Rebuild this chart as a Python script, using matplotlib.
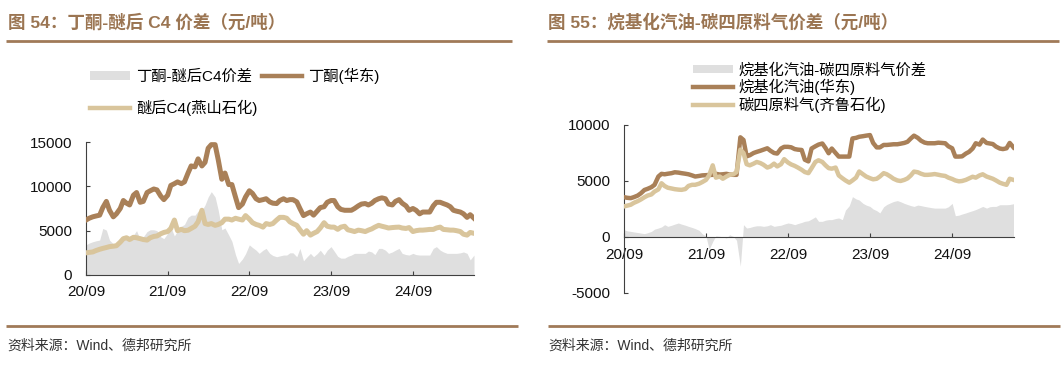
import matplotlib
matplotlib.use('Agg')
import matplotlib.pyplot as plt
import matplotlib.dates as mdates
from matplotlib.patches import Patch
from matplotlib.lines import Line2D
import pandas as pd

plt.rcParams['font.family'] = ['Liberation Sans', 'Noto Sans CJK SC']
plt.rcParams['axes.unicode_minus'] = False

# ---------------- data ----------------
dates = pd.date_range('2020-09-01', '2025-06-01', freq='SMS')  # semi-monthly grid

# Fig 54
butanone = [6200, 6400, 6560, 6650, 6750, 7600, 8300, 7300, 6560, 6900,
            7500, 8400, 8100, 7900, 9000, 9300, 8200, 8300, 9300, 9500,
            9700, 9600, 8900, 8500, 9000, 10100, 10300, 10500, 10300, 10500,
            11500, 12300, 12200, 13100, 12300, 12700, 14300, 14700, 14700, 13000,
            10800, 11500, 10200, 10200, 8800, 7600, 8000, 8800, 9500, 9200,
            8600, 8400, 8500, 8600, 8250, 8100, 8060, 8400, 8600, 8400,
            8500, 8500, 8250, 7500, 6700, 6900, 7100, 6750, 7200, 7600,
            7700, 8200, 8400, 8400, 7700, 7400, 7300, 7300, 7300, 7500,
            7800, 8000, 8060, 7900, 8100, 8400, 8600, 8700, 8600, 8000,
            7900, 8300, 8500, 8100, 7800, 7300, 7500, 7300, 6900, 7100,
            7100, 7100, 7800, 8200, 8200, 8060, 7900, 7700, 7300, 7200,
            7100, 6900, 6500, 6800, 6400]
c4_after_ether = [2500, 2550, 2600, 2750, 2900, 3000, 3100, 3200, 3250, 3300,
                  3700, 4100, 4200, 4000, 4250, 4200, 4100, 4000, 3940, 4200,
                  4350, 4400, 4650, 4800, 4900, 5250, 6200, 5000, 5150, 5000,
                  5050, 5250, 5500, 6000, 7300, 5800, 5700, 5800, 5600, 5700,
                  5900, 6300, 6300, 6200, 6400, 6300, 6200, 6700, 6300, 5900,
                  5700, 5600, 5400, 5800, 5700, 5800, 6200, 6500, 6500, 6400,
                  6000, 5800, 5600, 5100, 4600, 5000, 4500, 4700, 4900, 5300,
                  5900, 5500, 5400, 5400, 5150, 5400, 5500, 5100, 5000, 4900,
                  5060, 5000, 4900, 5060, 5200, 5400, 5600, 5500, 5400, 5300,
                  5350, 5380, 5400, 5300, 5250, 5350, 4900, 5000, 5060, 5060,
                  5100, 5140, 5140, 5300, 5400, 5140, 5100, 5060, 5060, 5000,
                  4900, 4600, 4500, 4800, 4700]
spread54 = [3400, 3600, 3750, 3850, 3940, 5250, 5060, 3940, 3500, 3400,
            3800, 4200, 4000, 3800, 4500, 5000, 4000, 4300, 4900, 5100,
            5100, 5000, 4300, 4100, 4700, 5400, 4400, 5000, 5500, 5700,
            6500, 6750, 6750, 7200, 7300, 7900, 8800, 9400, 8800, 7300,
            5100, 5300, 4500, 3800, 2300, 1300, 1800, 2400, 3400, 3100,
            2800, 2440, 2800, 3000, 2440, 2200, 2060, 2150, 2250, 2250,
            2500, 2500, 2060, 3000, 1600, 2000, 2440, 2060, 2400, 2800,
            2250, 2800, 3200, 2700, 2100, 1900, 1900, 2100, 2250, 2440,
            2440, 2440, 2440, 2700, 2600, 2300, 3000, 3000, 2800, 2440,
            2600, 2800, 3000, 2440, 2300, 2250, 2440, 2300, 2250, 2250,
            2250, 2250, 3000, 3200, 2800, 2600, 2440, 2440, 2440, 2440,
            2500, 2600, 2440, 1700, 2250]

# Fig 55
alkylate = [3560, 3500, 3470, 3560, 3700, 3900, 4200, 4300, 4450, 4660,
            5400, 5640, 5600, 5650, 5700, 5780, 5750, 5700, 5650, 5600,
            5500, 5400, 5450, 5500, 5520, 5540, 5550, 5640, 5580, 5600,
            5640, 5580, 5550, 5550, 8900, 8660, 7200, 7300, 7500, 7600,
            7700, 7800, 7920, 7700, 7500, 7450, 7900, 8050, 8050, 8010,
            7850, 7800, 7770, 6900, 6750, 7900, 8100, 8250, 8350, 7950,
            7480, 7900, 7500, 7180, 7180, 7180, 7180, 8800, 8850, 8950,
            9000, 9050, 9100, 8400, 8000, 8000, 8220, 8220, 8250, 8280,
            8280, 8330, 8400, 8500, 8800, 9050, 8850, 8600, 8430, 8370,
            8370, 8370, 8420, 8400, 8370, 8100, 7920, 7180, 7180, 7200,
            7450, 7600, 7900, 8370, 8250, 8700, 8400, 8350, 8300, 8070,
            7900, 7850, 7920, 8400, 8000]
c4_feed = [2730, 2800, 2880, 3050, 3200, 3350, 3550, 3700, 3800, 4060,
           4250, 4800, 4550, 4400, 4330, 4270, 4230, 4210, 4280, 4560,
           4660, 4660, 4760, 4900, 5100, 5500, 6400, 5300, 5400, 5200,
           5400, 5550, 5600, 5800, 7800, 7500, 6500, 6400, 6550, 6700,
           6600, 6450, 6200, 6300, 6550, 6300, 6500, 6950, 6650, 6480,
           6350, 6200, 6000, 5800, 5700, 6140, 6700, 6850, 6700, 6400,
           6150, 6100, 6200, 5500, 5250, 5050, 4850, 5050, 5300, 5850,
           5600, 5400, 5250, 5150, 5200, 5400, 5700, 5600, 5400, 5200,
           5050, 5000, 5100, 5230, 5500, 5840, 5780, 5650, 5550, 5550,
           5580, 5620, 5560, 5500, 5450, 5300, 5180, 5050, 4970, 5000,
           5100, 5230, 5380, 5300, 5500, 5600, 5400, 5300, 5200, 5050,
           4850, 4750, 4660, 5200, 5100]
spread55 = [650, 550, 500, 450, 400, 350, 300, 380, 500, 700,
            800, 900, 1100, 950, 1050, 1150, 1250, 1150, 1050, 950,
            850, 750, 600, 300, 60, -1100, -400, 100, 60, 0,
            -90, 200, 50, -300, -2600, 1100, 800, 850, 950, 1000,
            1000, 950, 1000, 1100, 950, 1000, 1050, 1150, 1250, 1200,
            1100, 1200, 1300, 1400, 1450, 1600, 1800, 1400, 1400, 1500,
            1550, 1550, 1650, 1700, 1550, 2400, 2800, 3600, 3400, 3300,
            3000, 2850, 2730, 2500, 2350, 2150, 2700, 2900, 3050, 3170,
            3250, 3150, 3000, 2900, 2800, 2730, 2850, 2800, 2730, 2680,
            2620, 2580, 2580, 2580, 2580, 2700, 3000, 1900, 1950, 2050,
            2150, 2250, 2350, 2450, 2600, 2730, 2580, 2700, 2730, 2730,
            2880, 2880, 2880, 2900, 2970]

xticks = pd.to_datetime(['2020-09-01', '2021-09-01', '2022-09-01', '2023-09-01', '2024-09-01'])

title54 = '图 54：丁酮-醚后 C4 价差（元/吨）'
title55 = '图 55：烷基化汽油-碳四原料气价差（元/吨）'
labels54 = ['丁酮-醚后C4价差', '醚后C4(燕山石化)', '丁酮(华东)']
labels55 = ['烷基化汽油-碳四原料气价差', '烷基化汽油(华东)', '碳四原料气(齐鲁石化)']
source = '资料来源：Wind、德邦研究所'

# ---------------- style ----------------
BROWN = '#a98058'
TAN = '#d9c59c'
GRAY = '#dfdfdf'
TITLE_C = '#9b7552'
RULE_C = '#a07a58'
AX_C = '#404040'
FONT = ['Liberation Sans', 'Noto Sans CJK SC']

W, H = 1063, 367
fig = plt.figure(figsize=(W / 100, H / 100), dpi=100)


def fx(px):
    return px / W


def fy(py):
    return 1 - py / H


def rule(x0, x1, y, lw=2.0):
    fig.add_artist(Line2D([fx(x0), fx(x1)], [fy(y), fy(y)], transform=fig.transFigure,
                          color=RULE_C, lw=lw, solid_capstyle='butt'))


# titles & rules
fig.text(fx(8), fy(22), title54, ha='left', va='center', fontsize=12.6,
         fontweight='bold', color=TITLE_C, family=FONT)
fig.text(fx(548), fy(22), title55, ha='left', va='center', fontsize=12.6,
         fontweight='bold', color=TITLE_C, family=FONT)
rule(6, 512, 41)
rule(547, 1059, 41)
rule(6, 518, 326)
rule(548, 1060, 326)
fig.text(fx(7), fy(346), source, ha='left', va='center', fontsize=10, color='#333333', family=FONT)
fig.text(fx(548), fy(346), source, ha='left', va='center', fontsize=10, color='#333333', family=FONT)


def style_axes(ax, ylim, yticks, ypad, xpad):
    for s in ['top', 'right']:
        ax.spines[s].set_visible(False)
    for s in ['left', 'bottom']:
        ax.spines[s].set_color(AX_C)
        ax.spines[s].set_linewidth(0.8)
    ax.set_ylim(*ylim)
    ax.set_yticks(yticks)
    ax.set_xticks(xticks)
    ax.set_xlim(dates[0], dates[-1])
    ax.xaxis.set_major_formatter(mdates.DateFormatter('%y/%m'))
    ax.tick_params(axis='both', direction='in', length=3, width=0.8, color=AX_C,
                   labelsize=11, labelcolor='#111111')
    ax.tick_params(axis='y', pad=ypad)
    ax.tick_params(axis='x', pad=xpad)
    ax.set_facecolor('none')


# ---------------- Fig 54 ----------------
ax1 = fig.add_axes([fx(86), fy(275), fx(474) - fx(86), (275 - 142) / H])
ax1.fill_between(dates, 0, spread54, color=GRAY, lw=0, zorder=1)
ax1.plot(dates, butanone, color=BROWN, lw=3.6, solid_joinstyle='round', zorder=3)
ax1.plot(dates, c4_after_ether, color=TAN, lw=3.6, solid_joinstyle='round', zorder=3)
style_axes(ax1, (0, 15000), [0, 5000, 10000, 15000], 10, 7)

h54 = [Patch(facecolor=GRAY, edgecolor='none'),
       Line2D([], [], color=TAN, lw=3.2),
       Line2D([], [], color=BROWN, lw=3.2)]
fig.legend(h54, [labels54[0], labels54[1], labels54[2]], ncol=2, loc='upper left',
           bbox_to_anchor=(fx(90), fy(68)), bbox_transform=fig.transFigure,
           frameon=False, handlelength=2.6, handleheight=0.5,
           handletextpad=0.4, columnspacing=0.3, labelspacing=1.0,
           borderpad=0, borderaxespad=0, prop={'family': FONT, 'size': 11})

# ---------------- Fig 55 ----------------
ax2 = fig.add_axes([fx(624), fy(293), fx(1013.5) - fx(624), (293 - 125) / H])
ax2.fill_between(dates, 0, spread55, color=GRAY, lw=0, zorder=1)
ax2.plot(dates, alkylate, color=BROWN, lw=3.2, solid_joinstyle='round', zorder=3)
ax2.plot(dates, c4_feed, color=TAN, lw=3.2, solid_joinstyle='round', zorder=3)
style_axes(ax2, (-5000, 10000), [-5000, 0, 5000, 10000], 10, 8)
ax2.spines['bottom'].set_position(('data', 0))

h55 = [Patch(facecolor=GRAY, edgecolor='none'),
       Line2D([], [], color=BROWN, lw=3.2),
       Line2D([], [], color=TAN, lw=3.2)]
fig.legend(h55, labels55, ncol=1, loc='upper left',
           bbox_to_anchor=(fx(693), fy(63)), bbox_transform=fig.transFigure,
           frameon=False, handlelength=2.6, handleheight=0.5,
           handletextpad=0.4, labelspacing=0.1,
           borderpad=0, borderaxespad=0, prop={'family': FONT, 'size': 11})

fig.savefig('out.png', dpi=100)
